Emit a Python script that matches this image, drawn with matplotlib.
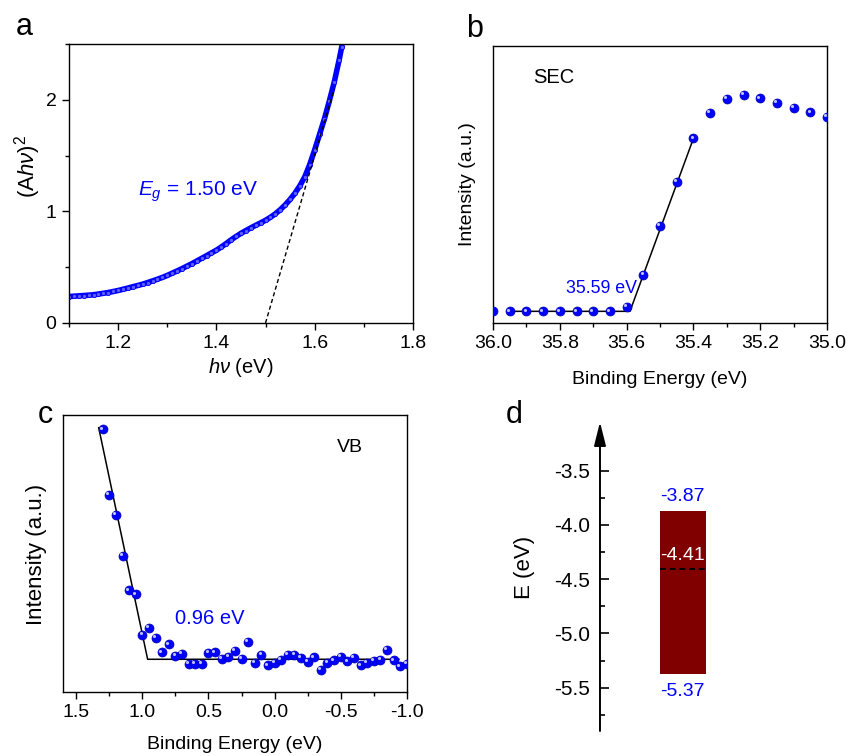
import matplotlib
matplotlib.use("Agg")
import matplotlib.pyplot as plt
import matplotlib.transforms as mtransforms
from matplotlib.ticker import MultipleLocator, NullLocator

plt.rcParams['font.family'] = ['Liberation Sans', 'DejaVu Sans']
plt.rcParams['mathtext.fontset'] = 'custom'
plt.rcParams['mathtext.rm'] = 'Liberation Sans'
plt.rcParams['mathtext.it'] = 'Liberation Sans:italic'
plt.rcParams['axes.linewidth'] = 1.0
plt.rcParams['axes.unicode_minus'] = False

BLUE = '#0000ff'

# (a) Tauc plot
tauc_hv = [1.10, 1.11, 1.12, 1.13, 1.14, 1.15, 1.16, 1.17, 1.18, 1.19,
           1.20, 1.21, 1.22, 1.23, 1.24, 1.25, 1.26, 1.27, 1.28, 1.29,
           1.30, 1.31, 1.32, 1.33, 1.34, 1.35, 1.36, 1.37, 1.38, 1.39,
           1.40, 1.41, 1.42, 1.43, 1.44, 1.45, 1.46, 1.47, 1.48, 1.49,
           1.50, 1.51, 1.52, 1.53, 1.54, 1.55, 1.56, 1.57, 1.58, 1.59,
           1.60, 1.61, 1.62, 1.63, 1.64, 1.65, 1.655]
tauc_y = [0.237, 0.240, 0.243, 0.246, 0.249, 0.253, 0.259, 0.266, 0.273, 0.282,
          0.291, 0.302, 0.313, 0.325, 0.336, 0.348, 0.362, 0.377, 0.392, 0.408,
          0.426, 0.446, 0.466, 0.487, 0.509, 0.531, 0.555, 0.579, 0.603, 0.628,
          0.652, 0.681, 0.712, 0.745, 0.775, 0.803, 0.828, 0.852, 0.875, 0.897,
          0.920, 0.947, 0.978, 1.015, 1.058, 1.107, 1.163, 1.230, 1.310, 1.420,
          1.550, 1.690, 1.830, 1.990, 2.160, 2.360, 2.470]
tauc_fit_x = [1.50, 1.64]
tauc_fit_y = [0.0, 2.10]
eg = 1.50

# (b) secondary electron cutoff
sec_be = [36.00, 35.95, 35.90, 35.85, 35.80, 35.75, 35.70, 35.65, 35.60, 35.55,
          35.50, 35.45, 35.40, 35.35, 35.30, 35.25, 35.20, 35.15, 35.10, 35.05, 35.00]
sec_int = [0.042, 0.042, 0.042, 0.042, 0.042, 0.042, 0.042, 0.042, 0.058, 0.173,
           0.349, 0.510, 0.666, 0.758, 0.810, 0.822, 0.811, 0.795, 0.775, 0.760, 0.743]
sec_fit_x = [35.95, 35.59, 35.40]
sec_fit_y = [0.042, 0.042, 0.666]
sec_cutoff = 35.59

# (c) valence band edge
vb_be = [1.30, 1.25, 1.20, 1.15, 1.10, 1.05, 1.00, 0.95, 0.90, 0.85,
         0.80, 0.75, 0.70, 0.65, 0.60, 0.55, 0.50, 0.45, 0.40, 0.35,
         0.30, 0.25, 0.20, 0.15, 0.10, 0.05, 0.00, -0.05, -0.10, -0.15,
         -0.20, -0.25, -0.30, -0.35, -0.40, -0.45, -0.50, -0.55, -0.60, -0.65,
         -0.70, -0.75, -0.80, -0.85, -0.90, -0.95, -1.00]
vb_int = [0.948, 0.710, 0.639, 0.490, 0.367, 0.352, 0.207, 0.230, 0.195, 0.143,
          0.172, 0.130, 0.137, 0.102, 0.100, 0.102, 0.142, 0.143, 0.119, 0.127,
          0.148, 0.120, 0.182, 0.105, 0.135, 0.096, 0.106, 0.116, 0.133, 0.133,
          0.123, 0.108, 0.125, 0.081, 0.105, 0.114, 0.127, 0.110, 0.122, 0.096,
          0.106, 0.112, 0.117, 0.151, 0.114, 0.092, 0.102]
vb_fit_x = [1.33, 0.96, -0.94]
vb_fit_y = [0.954, 0.118, 0.118]
vb_edge = 0.96

# (d) band positions
cb_level = -3.87
vb_level = -5.37
fermi_level = -4.41


def spheres(ax, x, y):
    # shaded ball markers: blue body with a small light highlight
    ax.scatter(x, y, s=42, color=BLUE, edgecolors='#0000b0', linewidths=0.5, zorder=3)
    hl = ax.transData + mtransforms.ScaledTranslation(-1.3 / 72, 1.3 / 72, ax.figure.dpi_scale_trans)
    ax.scatter(x, y, s=5, color='#c0c0ff', linewidths=0, zorder=4, transform=hl)


fig = plt.figure(figsize=(8.49, 7.56), dpi=100)

# ---- a ----
ax1 = fig.add_axes([0.0813, 0.5728, 0.405, 0.369])
ax1.plot(tauc_hv, tauc_y, color=BLUE, lw=4.0, marker='o', ms=3, mfc='#6060ff', mec=BLUE, mew=0.6)
ax1.plot(tauc_fit_x, tauc_fit_y, 'k--', lw=1.0, dashes=(3, 2))
ax1.set_xlim(1.1, 1.8)
ax1.set_ylim(0, 2.5)
ax1.set_xticks([1.2, 1.4, 1.6, 1.8])
ax1.xaxis.set_minor_locator(MultipleLocator(0.1))
ax1.yaxis.set_major_locator(MultipleLocator(1))
ax1.yaxis.set_minor_locator(MultipleLocator(0.5))
ax1.tick_params(which='major', length=5, width=1, labelsize=14, pad=4)
ax1.tick_params(which='minor', length=3, width=1)
ax1.set_xlabel(r'$h\nu$ (eV)', fontsize=14.5)
ax1.set_ylabel(r'(A$h\nu$)$^2$', fontsize=16)
ax1.xaxis.set_label_coords(0.5, -0.16)
ax1.xaxis.label.set_va('center')
ax1.yaxis.set_label_coords(-0.12, 0.56)
ax1.yaxis.label.set_va('center')
ax1.text(1.24, 1.18, r'$E_g$ = %.2f eV' % eg, color=BLUE, fontsize=15, va='center')

# ---- b ----
ax2 = fig.add_axes([0.5807, 0.5728, 0.3934, 0.3664])
ax2.plot(sec_fit_x, sec_fit_y, 'k-', lw=1.1, zorder=2)
spheres(ax2, sec_be, sec_int)
ax2.set_xlim(36.0, 35.0)
ax2.set_ylim(0, 1)
ax2.xaxis.set_major_locator(MultipleLocator(0.2))
ax2.xaxis.set_minor_locator(MultipleLocator(0.1))
ax2.yaxis.set_major_locator(NullLocator())
ax2.tick_params(which='major', length=5, width=1, labelsize=14, pad=4)
ax2.tick_params(which='minor', length=3, width=1)
ax2.set_xlabel('Binding Energy (eV)', fontsize=14)
ax2.set_ylabel('Intensity (a.u.)', fontsize=14)
ax2.xaxis.set_label_coords(0.5, -0.205)
ax2.xaxis.label.set_va('center')
ax2.yaxis.set_label_coords(-0.075, 0.5)
ax2.yaxis.label.set_va('center')
ax2.text(0.12, 0.885, 'SEC', transform=ax2.transAxes, fontsize=14.5, va='center')
ax2.text(sec_cutoff - 0.02, 0.126, '%.2f eV' % sec_cutoff, color=BLUE, fontsize=12.8,
         ha='right', va='center')

# ---- c ----
ax3 = fig.add_axes([0.0742, 0.0847, 0.405, 0.3664])
ax3.plot(vb_fit_x, vb_fit_y, 'k-', lw=1.1, zorder=2)
spheres(ax3, vb_be, vb_int)
ax3.set_xlim(1.6, -1.0)
ax3.set_ylim(0, 1)
ax3.xaxis.set_major_locator(MultipleLocator(0.5))
ax3.xaxis.set_minor_locator(MultipleLocator(0.25))
ax3.yaxis.set_major_locator(NullLocator())
ax3.tick_params(which='major', length=5, width=1, labelsize=14, pad=4)
ax3.tick_params(which='minor', length=3, width=1)
ax3.set_xlabel('Binding Energy (eV)', fontsize=14)
ax3.set_ylabel('Intensity (a.u.)', fontsize=16)
ax3.xaxis.set_label_coords(0.5, -0.19)
ax3.xaxis.label.set_va('center')
ax3.yaxis.set_label_coords(-0.076, 0.495)
ax3.yaxis.label.set_va('center')
ax3.text(0.797, 0.884, 'VB', transform=ax3.transAxes, fontsize=14, va='center')
ax3.text(0.326, 0.267, '%.2f eV' % vb_edge, transform=ax3.transAxes, color=BLUE,
         fontsize=14.5, va='center')

# ---- d ----
ax4 = fig.add_axes([0.7067, 0.0331, 0.271, 0.4087])
ax4.set_xlim(0, 1)
ax4.set_ylim(-5.9, -3.05)
for s in ax4.spines.values():
    s.set_visible(False)
ax4.xaxis.set_visible(False)
ax4.yaxis.set_major_locator(MultipleLocator(0.5))
ax4.yaxis.set_minor_locator(MultipleLocator(0.25))
ax4.tick_params(axis='y', which='major', direction='in', length=6.5, width=1.2,
                labelsize=15, pad=7)
ax4.tick_params(axis='y', which='minor', direction='in', length=3.5, width=1.2)
ax4.annotate('', xy=(0, 1), xytext=(0, 0), xycoords='axes fraction',
             arrowprops=dict(arrowstyle='-|>,head_length=0.8,head_width=0.2',
                             lw=1.4, color='k', mutation_scale=18, shrinkA=0, shrinkB=0))
bar_x = 0.36
ax4.bar(bar_x, cb_level - vb_level, bottom=vb_level, width=0.2, color='#800000')
ax4.plot([bar_x - 0.1, bar_x + 0.1], [fermi_level, fermi_level], 'k--', lw=1.4, dashes=(3, 2))
ax4.annotate('%.2f' % cb_level, (bar_x, cb_level), xytext=(0, 4), textcoords='offset points',
             ha='center', va='bottom', color=BLUE, fontsize=14)
ax4.annotate('%.2f' % vb_level, (bar_x, vb_level), xytext=(0, -7), textcoords='offset points',
             ha='center', va='top', color=BLUE, fontsize=14)
ax4.annotate('%.2f' % fermi_level, (bar_x, fermi_level), xytext=(0, 4), textcoords='offset points',
             ha='center', va='bottom', color='white', fontsize=14)
ax4.set_ylabel('E (eV)', fontsize=16)
ax4.yaxis.set_label_coords(-0.326, 0.53)
ax4.yaxis.label.set_va('center')

# panel letters
for letter, (px, py) in zip('abcd', [(24, 27), (475, 29), (45, 415), (514, 415)]):
    fig.text(px / 849, 1 - py / 756, letter, fontsize=22, ha='center', va='center')

fig.savefig('out.png', dpi=100)
